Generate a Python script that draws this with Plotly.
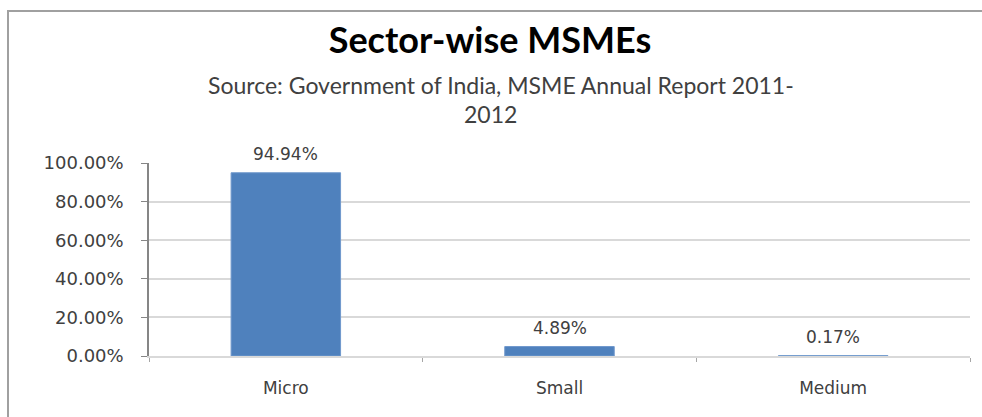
import plotly.graph_objects as go

categories = ["Micro", "Small", "Medium"]
shares = [94.94, 4.89, 0.17]
labels = ["94.94%", "4.89%", "0.17%"]
tick_vals = [0, 20, 40, 60, 80, 100]
tick_text = ["0.00%", "20.00%", "40.00%", "60.00%", "80.00%", "100.00%"]
title_text = "Sector-wise MSMEs"
subtitle_lines = ["Source: Government of India, MSME Annual Report 2011-", "2012"]

W, H = 982, 417
ML, MR, MT, MB = 149, 12, 163, 61
PW = W - ML - MR
PH = H - MT - MB

def px_x(x):
    return (x - ML) / PW

def px_y(y):
    return (H - MB - y) / PH

fig = go.Figure()
fig.add_trace(go.Bar(
    x=categories, y=shares,
    marker=dict(color="#4f81bd", line=dict(color="#6f98cc", width=1)),
    width=0.4, hoverinfo="skip",
))

for c, v, t in zip(categories, shares, labels):
    fig.add_annotation(x=c, y=v, text=t, showarrow=False, yanchor="middle",
                       yshift=19, font=dict(family="DejaVu Sans", size=17, color="#404040"))

sub_pos = [(501, 85), (490, 114)]
for line, (sx, sy) in zip(subtitle_lines, sub_pos):
    fig.add_annotation(xref="paper", yref="paper", x=px_x(sx), y=px_y(sy),
                       text=line, showarrow=False, xanchor="center", yanchor="middle",
                       font=dict(family="Lato", size=23, color="#404040"))

# outer chart border (only left and top edges are inside the picture)
fig.add_shape(type="line", xref="paper", yref="paper",
              x0=px_x(8), x1=px_x(8), y0=px_y(H + 5), y1=px_y(10),
              line=dict(color="#a0a0a0", width=2), layer="below")
fig.add_shape(type="line", xref="paper", yref="paper",
              x0=px_x(7), x1=px_x(W + 5), y0=px_y(11), y1=px_y(11),
              line=dict(color="#a0a0a0", width=2), layer="below")

fig.update_layout(
    width=W, height=H,
    margin=dict(l=ML, r=MR, t=MT, b=MB, pad=0),
    paper_bgcolor="white", plot_bgcolor="white",
    showlegend=False,
    bargap=0.6,
    title=dict(text="<b>" + title_text + "</b>", xref="container", yref="container",
               x=490 / W, y=1 - 40 / H, xanchor="center", yanchor="middle",
               font=dict(family="Lato", size=36, color="#000000")),
    xaxis=dict(
        type="category", showgrid=False, zeroline=False,
        showline=True, linecolor="#d9d9d9", linewidth=1.5,
        ticks="outside", tickson="boundaries", ticklen=4, tickcolor="#a6a6a6",
        tickfont=dict(family="DejaVu Sans", size=17, color="#404040"),
        ticklabelstandoff=16,
    ),
    yaxis=dict(
        range=[0, 100], tickvals=tick_vals, ticktext=tick_text,
        showgrid=True, gridcolor="#d9d9d9", gridwidth=1.5, zeroline=False,
        showline=True, linecolor="#868686", linewidth=1.5,
        ticks="outside", ticklen=6, tickcolor="#868686",
        tickfont=dict(family="DejaVu Sans", size=18, color="#404040"),
        ticklabelstandoff=14,
    ),
)

fig.write_html("out.html", config={"displayModeBar": False},
               post_script="document.body.style.margin='0';document.body.style.overflow='hidden';")
